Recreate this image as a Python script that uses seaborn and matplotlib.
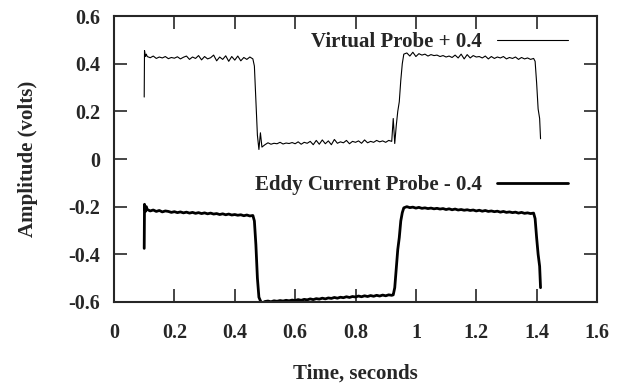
import numpy as np
import pandas as pd
import matplotlib
matplotlib.use("Agg")
import matplotlib.pyplot as plt
import seaborn as sns

# Data

time_s = [
    0.100, 0.101, 0.104, 0.107,
    0.11, 0.12, 0.13, 0.14, 0.15, 0.16, 0.17, 0.18, 0.19, 0.20,
    0.21, 0.22, 0.23, 0.24, 0.25, 0.26, 0.27, 0.28, 0.29, 0.30,
    0.31, 0.32, 0.33, 0.34, 0.35, 0.36, 0.37, 0.38, 0.39, 0.40,
    0.41, 0.42, 0.43, 0.44, 0.45, 0.46,
    0.465, 0.47, 0.475, 0.48, 0.485, 0.49,
    0.50, 0.51, 0.52, 0.53, 0.54, 0.55, 0.56, 0.57, 0.58, 0.59,
    0.60, 0.61, 0.62, 0.63, 0.64, 0.65, 0.66, 0.67, 0.68, 0.69,
    0.70, 0.71, 0.72, 0.73, 0.74, 0.75, 0.76, 0.77, 0.78, 0.79,
    0.80, 0.81, 0.82, 0.83, 0.84, 0.85, 0.86, 0.87, 0.88, 0.89,
    0.90, 0.91, 0.92,
    0.925, 0.93, 0.935, 0.94, 0.945, 0.95, 0.955, 0.96,
    0.97, 0.98, 0.99, 1.00, 1.01, 1.02, 1.03, 1.04, 1.05, 1.06,
    1.07, 1.08, 1.09, 1.10, 1.11, 1.12, 1.13, 1.14, 1.15, 1.16,
    1.17, 1.18, 1.19, 1.20, 1.21, 1.22, 1.23, 1.24, 1.25, 1.26,
    1.27, 1.28, 1.29, 1.30, 1.31, 1.32, 1.33, 1.34, 1.35, 1.36,
    1.37, 1.38, 1.39,
    1.395, 1.40, 1.405, 1.41, 1.413,
]

# values as drawn (offsets already included, see legend labels)
virtual_probe = [
    0.26, 0.455, 0.43, 0.44,
    0.430, 0.425, 0.432, 0.422, 0.428, 0.424, 0.430, 0.421, 0.426, 0.423,
    0.429, 0.420, 0.427, 0.432, 0.418, 0.428, 0.422, 0.434, 0.416, 0.430,
    0.420, 0.425, 0.436, 0.412, 0.428, 0.418, 0.433, 0.410, 0.430, 0.415,
    0.432, 0.412, 0.426, 0.418, 0.428, 0.420,
    0.39, 0.25, 0.10, 0.04, 0.11, 0.05,
    0.060, 0.068, 0.062, 0.066, 0.064, 0.070, 0.063, 0.067, 0.065, 0.069,
    0.064, 0.072, 0.062, 0.070, 0.066, 0.074, 0.060, 0.078, 0.062, 0.080,
    0.064, 0.076, 0.060, 0.082, 0.066, 0.072, 0.068, 0.078, 0.064, 0.074,
    0.070, 0.076, 0.066, 0.080, 0.068, 0.074, 0.070, 0.078, 0.072, 0.076,
    0.070, 0.078, 0.074,
    0.17, 0.065, 0.14, 0.20, 0.24, 0.33, 0.40, 0.44,
    0.445, 0.432, 0.448, 0.430, 0.442, 0.436, 0.440, 0.432, 0.438, 0.434,
    0.436, 0.430, 0.434, 0.428, 0.432, 0.426, 0.436, 0.424, 0.440, 0.420,
    0.438, 0.424, 0.434, 0.428, 0.430, 0.424, 0.432, 0.420, 0.430, 0.422,
    0.428, 0.424, 0.430, 0.420, 0.426, 0.422, 0.428, 0.418, 0.426, 0.420,
    0.424, 0.418, 0.422,
    0.41, 0.32, 0.21, 0.17, 0.085,
]

eddy_probe = [
    -0.375, -0.19, -0.22, -0.20,
    -0.212, -0.218, -0.214, -0.220, -0.216, -0.222, -0.218, -0.220, -0.224, -0.221,
    -0.225, -0.222, -0.226, -0.223, -0.227, -0.224, -0.228, -0.225, -0.229, -0.226,
    -0.230, -0.227, -0.231, -0.229, -0.233, -0.230, -0.234, -0.231, -0.235, -0.233,
    -0.236, -0.234, -0.238, -0.235, -0.239, -0.237,
    -0.26, -0.36, -0.50, -0.58, -0.595, -0.605,
    -0.598, -0.596, -0.599, -0.595, -0.597, -0.594, -0.596, -0.593, -0.595, -0.592,
    -0.594, -0.590, -0.593, -0.589, -0.591, -0.587, -0.590, -0.586, -0.588, -0.584,
    -0.587, -0.583, -0.585, -0.581, -0.584, -0.580, -0.582, -0.578, -0.581, -0.577,
    -0.579, -0.575, -0.578, -0.574, -0.577, -0.573, -0.576, -0.572, -0.575, -0.571,
    -0.574, -0.570, -0.572,
    -0.57, -0.54, -0.46, -0.38, -0.33, -0.26, -0.225, -0.205,
    -0.200, -0.204, -0.202, -0.206, -0.203, -0.207, -0.205, -0.208, -0.206, -0.209,
    -0.207, -0.210, -0.208, -0.212, -0.209, -0.213, -0.210, -0.214, -0.212, -0.215,
    -0.213, -0.216, -0.214, -0.218, -0.215, -0.219, -0.216, -0.220, -0.218, -0.221,
    -0.219, -0.223, -0.220, -0.224, -0.222, -0.225, -0.223, -0.227, -0.224, -0.228,
    -0.226, -0.229, -0.227,
    -0.25, -0.33, -0.40, -0.45, -0.54,
]

x_ticks = [0, 0.2, 0.4, 0.6, 0.8, 1.0, 1.2, 1.4, 1.6]
x_labels = ["0", "0.2", "0.4", "0.6", "0.8", "1", "1.2", "1.4", "1.6"]
y_ticks = [-0.6, -0.4, -0.2, 0, 0.2, 0.4, 0.6]
y_labels = ["-0.6", "-0.4", "-0.2", "0", "0.2", "0.4", "0.6"]

df = pd.DataFrame({
    "time": time_s,
    "virtual": virtual_probe,
    "eddy": eddy_probe
})

# Style

sns.set_style("ticks")
plt.rcParams["font.family"] = ["Liberation Serif", "DejaVu Serif"]
plt.rcParams["font.weight"] = "bold"

fig = plt.figure(figsize=(6.18, 3.85), dpi=100)
ax = fig.add_axes([0.1845, 0.2156, 0.7815, 0.7428])

sns.lineplot(
    data=df,
    x="time",
    y="virtual",
    color="black",
    linewidth=0.8,
    estimator=None,
    sort=False,
    ax=ax
)

sns.lineplot(
    data=df,
    x="time",
    y="eddy",
    color="black",
    linewidth=2.0,
    estimator=None,
    sort=False,
    ax=ax
)

ax.set_xlim(0, 1.6)
ax.set_ylim(-0.6, 0.6)
ax.set_xticks(x_ticks)
ax.set_xticklabels(x_labels, fontweight="bold")
ax.set_yticks(y_ticks)
ax.set_yticklabels(y_labels, fontweight="bold")

ax.tick_params(
    direction="in",
    length=9.5,
    width=1.2,
    top=True,
    right=True,
    labelsize=14.5
)
ax.tick_params(axis="x", pad=15)
ax.tick_params(axis="y", pad=10)

for spine in ax.spines.values():
    spine.set_linewidth(1.5)

ax.set_xlabel("Time, seconds", fontweight="bold", fontsize=15, labelpad=15)
ax.set_ylabel("Amplitude (volts)", fontweight="bold", fontsize=15, labelpad=22)

# gnuplot-like keys: text first, sample line after

lines = ax.get_lines()

leg1 = ax.legend(
    [lines[0]],
    ["Virtual Probe + 0.4"],
    loc="center right",
    bbox_to_anchor=(568 / 618, 1 - 42 / 385),
    bbox_transform=fig.transFigure,
    markerfirst=False,
    frameon=False,
    borderpad=0,
    borderaxespad=0,
    handlelength=3.4,
    handletextpad=0.75,
    prop={"weight": "bold", "size": 15}
)
ax.add_artist(leg1)

ax.legend(
    [lines[1]],
    ["Eddy Current Probe - 0.4"],
    loc="center right",
    bbox_to_anchor=(568 / 618, 1 - 185 / 385),
    bbox_transform=fig.transFigure,
    markerfirst=False,
    frameon=False,
    borderpad=0,
    borderaxespad=0,
    handlelength=3.4,
    handletextpad=0.75,
    prop={"weight": "bold", "size": 15}
)

plt.savefig("out.png", dpi=100)
